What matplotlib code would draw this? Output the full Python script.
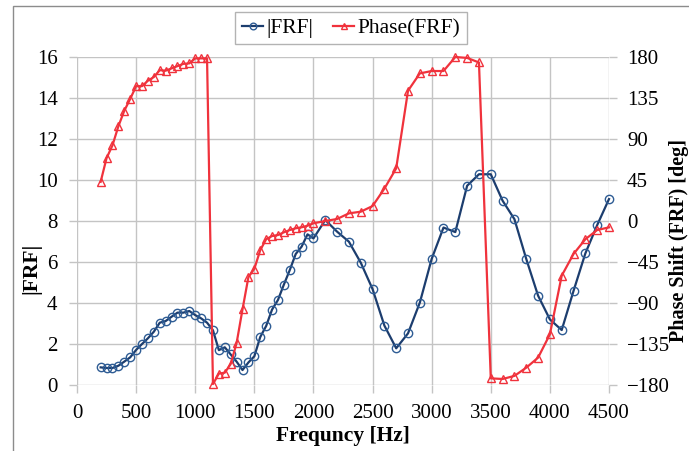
import matplotlib
matplotlib.use("Agg")
import matplotlib.pyplot as plt
import numpy as np
from matplotlib.patches import Rectangle

plt.rcParams["font.family"] = ["Liberation Serif", "DejaVu Serif"]

freq = [200, 250, 300, 350, 400, 450, 500, 550, 600, 650, 700, 750, 800, 850, 900, 950,
        1000, 1050, 1100, 1150, 1200, 1250, 1300, 1350, 1400, 1450, 1500, 1550, 1600,
        1650, 1700, 1750, 1800, 1850, 1900, 1950, 2000,
        2100, 2200, 2300, 2400, 2500, 2600, 2700, 2800, 2900, 3000, 3100, 3200, 3300,
        3400, 3500, 3600, 3700, 3800, 3900, 4000, 4100, 4200, 4300, 4400, 4500]

frf = [0.86, 0.83, 0.83, 0.94, 1.14, 1.35, 1.71, 2.00, 2.28, 2.60, 3.04, 3.12, 3.33, 3.53,
       3.53, 3.61, 3.41, 3.25, 3.04, 2.67, 1.70, 1.84, 1.49, 1.14, 0.73, 1.10, 1.40, 2.34,
       2.88, 3.68, 4.15, 4.90, 5.61, 6.39, 6.75, 7.35, 7.15,
       8.05, 7.48, 6.99, 5.97, 4.68, 2.90, 1.79, 2.52, 4.02, 6.15, 7.68, 7.46, 9.72,
       10.28, 10.28, 8.99, 8.09, 6.15, 4.36, 3.20, 2.68, 4.59, 6.42, 7.80, 9.07]

phase = [43, 69, 83, 104, 121, 134, 148, 148, 154, 158, 165.5, 165, 167.5, 170, 172.5, 173,
         178.5, 178.5, 178.5, -179, -167.5, -166.5, -157, -134, -97, -61.5, -52.5, -32,
         -20, -16.5, -15.4, -12.4, -9.9, -8, -6.9, -5.2, -2.5,
         0, 2.2, 8.4, 10.2, 16.4, 35.5, 57.8, 143, 162, 164.6, 164.6, 180, 179,
         174, -172.7, -173.4, -170, -161, -150, -124.4, -60, -36.2, -20, -9.9, -7]

blue = "#1C3D6E"
red = "#F0323C"
grid_c = "#C4C4C4"

fig = plt.figure(figsize=(6.89, 4.51), dpi=100)
ax = fig.add_axes([77 / 689, 1 - 385 / 451, 532 / 689, 328 / 451])
ax2 = ax.twinx()

l1, = ax.plot(freq, frf, "-o", color=blue, lw=1.6, ms=6, mfc="none",
              mec="#2E5C94", mew=1.0, label="|FRF|", clip_on=False, zorder=3)
l2, = ax2.plot(freq, phase, "-^", color=red, lw=1.6, ms=6, mfc="none",
               mec=red, mew=1.0, label="Phase(FRF)", clip_on=False, zorder=3)

ax.set_xlim(0, 4500)
ax.set_ylim(0, 16)
ax2.set_ylim(-180, 180)
ax.set_xticks(np.arange(0, 4501, 500))
ax.set_yticks(np.arange(0, 17, 2))
ax2.set_yticks(np.arange(-180, 181, 45))
ax.grid(True, color=grid_c, lw=1)
ax.set_axisbelow(True)

for a in (ax, ax2):
    for s in a.spines.values():
        s.set_visible(False)
    a.tick_params(axis="both", length=6, width=1, color=grid_c, labelsize=15, pad=8)
ax2.tick_params(axis="y", pad=7)

ax.set_xlabel("Frequncy [Hz]", fontsize=15.5, fontweight="bold", labelpad=2)
fig.text(31 / 689, 1 - 268 / 451, "|FRF|", rotation=90,
         ha="center", va="center", fontsize=15.5, fontweight="bold")
fig.text(679 / 689, 1 - 240 / 451, "Phase Shift (FRF) [deg]", rotation=90,
         ha="center", va="center", fontsize=14.5, fontweight="bold")

leg = fig.legend([l1, l2], ["|FRF|", "Phase(FRF)"], loc="center",
                 bbox_to_anchor=(351 / 689, 1 - 28 / 451), ncol=2, fontsize=15.5,
                 frameon=True, fancybox=False, edgecolor="#A0A0A0",
                 handlelength=1.0, handletextpad=0.15, columnspacing=0.9,
                 borderpad=0.3, markerscale=0.8)
leg.get_frame().set_linewidth(1)

fig.patches.append(Rectangle((12.5 / 689, -0.1), 1.2, 1.1 - 6.3 / 451,
                             transform=fig.transFigure, fill=False,
                             edgecolor="#8C8C8C", lw=1))

fig.savefig("out.png", dpi=100)
